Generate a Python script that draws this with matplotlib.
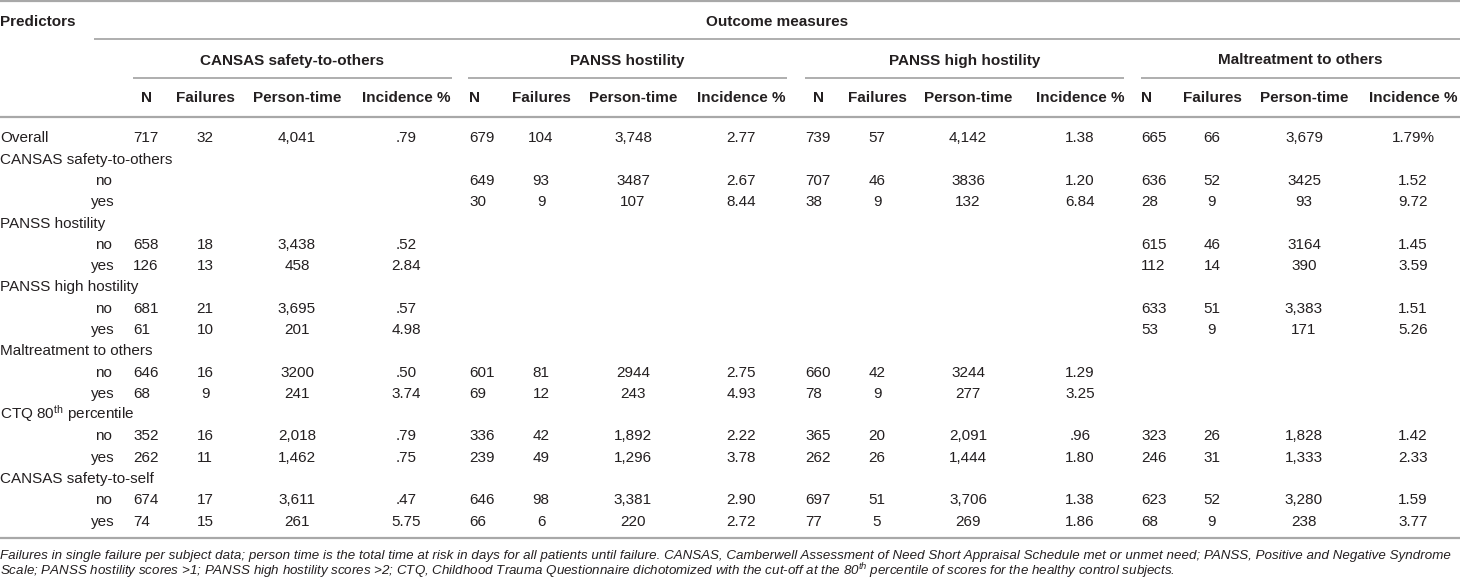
import matplotlib
matplotlib.use("Agg")
from matplotlib import pyplot as plt

plt.rcParams['font.family'] = ['Liberation Sans', 'DejaVu Sans']
plt.rcParams['mathtext.fontset'] = 'custom'
plt.rcParams['mathtext.rm'] = 'Liberation Sans'
plt.rcParams['mathtext.it'] = 'Liberation Sans:italic'

# table content
predictors = ["Overall", "CANSAS safety-to-others", "no", "yes",
              "PANSS hostility", "no", "yes",
              "PANSS high hostility", "no", "yes",
              "Maltreatment to others", "no", "yes",
              "CTQ 80$^{\\mathrm{th}}$ percentile", "no", "yes",
              "CANSAS safety-to-self", "no", "yes"]
outcomes = ["CANSAS safety-to-others", "PANSS hostility",
            "PANSS high hostility", "Maltreatment to others"]
col_names = ["N", "Failures", "Person-time", "Incidence %"]

cansas_n = ["717", "", "", "", "", "658", "126", "", "681", "61", "", "646", "68", "", "352", "262", "", "674", "74"]
cansas_fail = ["32", "", "", "", "", "18", "13", "", "21", "10", "", "16", "9", "", "16", "11", "", "17", "15"]
cansas_pt = ["4,041", "", "", "", "", "3,438", "458", "", "3,695", "201", "", "3200", "241", "", "2,018", "1,462", "", "3,611", "261"]
cansas_inc = [".79", "", "", "", "", ".52", "2.84", "", ".57", "4.98", "", ".50", "3.74", "", ".79", ".75", "", ".47", "5.75"]

panss_n = ["679", "", "649", "30", "", "", "", "", "", "", "", "601", "69", "", "336", "239", "", "646", "66"]
panss_fail = ["104", "", "93", "9", "", "", "", "", "", "", "", "81", "12", "", "42", "49", "", "98", "6"]
panss_pt = ["3,748", "", "3487", "107", "", "", "", "", "", "", "", "2944", "243", "", "1,892", "1,296", "", "3,381", "220"]
panss_inc = ["2.77", "", "2.67", "8.44", "", "", "", "", "", "", "", "2.75", "4.93", "", "2.22", "3.78", "", "2.90", "2.72"]

high_n = ["739", "", "707", "38", "", "", "", "", "", "", "", "660", "78", "", "365", "262", "", "697", "77"]
high_fail = ["57", "", "46", "9", "", "", "", "", "", "", "", "42", "9", "", "20", "26", "", "51", "5"]
high_pt = ["4,142", "", "3836", "132", "", "", "", "", "", "", "", "3244", "277", "", "2,091", "1,444", "", "3,706", "269"]
high_inc = ["1.38", "", "1.20", "6.84", "", "", "", "", "", "", "", "1.29", "3.25", "", ".96", "1.80", "", "1.38", "1.86"]

mal_n = ["665", "", "636", "28", "", "615", "112", "", "633", "53", "", "", "", "", "323", "246", "", "623", "68"]
mal_fail = ["66", "", "52", "9", "", "46", "14", "", "51", "9", "", "", "", "", "26", "31", "", "52", "9"]
mal_pt = ["3,679", "", "3425", "93", "", "3164", "390", "", "3,383", "171", "", "", "", "", "1,828", "1,333", "", "3,280", "238"]
mal_inc = ["1.79%", "", "1.52", "9.72", "", "1.45", "3.59", "", "1.51", "5.26", "", "", "", "", "1.42", "2.33", "", "1.59", "3.77"]

groups = [
    (cansas_n, cansas_fail, cansas_pt, cansas_inc),
    (panss_n, panss_fail, panss_pt, panss_inc),
    (high_n, high_fail, high_pt, high_inc),
    (mal_n, mal_fail, mal_pt, mal_inc),
]

footnote = [
    "Failures in single failure per subject data; person time is the total time at risk in days for all patients "
    "until failure. CANSAS, Camberwell Assessment of Need Short Appraisal Schedule met or unmet need; PANSS, "
    "Positive and Negative Syndrome",
    "Scale; PANSS hostility scores >1; PANSS high hostility scores >2; CTQ, Childhood Trauma Questionnaire "
    "dichotomized with the cut-off at the 80$^{th}$ percentile of scores for the healthy control subjects.",
]

# layout (pixels)
W, H = 1460, 582
group_span = [(133, 452), (468, 787), (805, 1124), (1141, 1460)]
n_left = [133, 469, 805, 1141]
# N header: (x, alignment)
n_head = [(146, 'center'), (469, 'left'), (818, 'center'), (1141, 'left')]
other_x = [(205, 297, 406), (541, 633, 741), (877, 968, 1080), (1212, 1304, 1413)]
row0, row_step = 137, 21.28
text_col = '#231f20'
line_col = '#a8a8a8'
fs = 11

fig = plt.figure(figsize=(W / 100, H / 100), dpi=100)
ax = fig.add_axes([0, 0, 1, 1])
ax.set_xlim(0, W)
ax.set_ylim(H, 0)
ax.axis('off')


def hline(y, x0, x1, lw=1.3):
    ax.plot([x0, x1], [y, y], color=line_col, lw=lw, solid_capstyle='butt')


def txt(x, y, s, ha='left', bold=False, size=fs, style='normal'):
    return ax.text(x, y + 5.5, s, ha=ha, va='baseline', fontsize=size, color=text_col,
                   fontweight='bold' if bold else 'normal', fontstyle=style)


# rules
hline(1, 0, W, lw=1.6)
hline(39, 94, W)
for x0, x1 in group_span:
    hline(78, x0, x1)
hline(117, 0, W, lw=1.6)
hline(538, 0, W, lw=1.6)

# headers
txt(0, 21, "Predictors", bold=True)
txt(777, 21, "Outcome measures", ha='center', bold=True)
for g, (x0, x1) in enumerate(group_span):
    txt((x0 + x1) / 2, 59, outcomes[g], ha='center', bold=True)
    txt(n_head[g][0], 97, col_names[0], ha=n_head[g][1], bold=True)
    for k in range(3):
        txt(other_x[g][k], 97, col_names[k + 1], ha='center', bold=True)

# body
for i, lab in enumerate(predictors):
    y = row0 + i * row_step
    if lab in ("no", "yes"):
        txt(103, y, lab, ha='center')
    else:
        txt(0, y, lab)
    for g, cols in enumerate(groups):
        n, fail, pt, inc = (c[i] for c in cols)
        if n:
            txt(n_left[g], y, n)
        for k, v in enumerate((fail, pt, inc)):
            if v:
                txt(other_x[g][k], y, v, ha='center')

# footnote, scaled to the full width
t1 = txt(0, 553, footnote[0], size=10, style='italic')
t2 = txt(0, 570, footnote[1], size=10, style='italic')
r = fig.canvas.get_renderer()
wpx = t1.get_window_extent(r).width
new_fs = 10 * 1448 / wpx
t1.set_fontsize(new_fs)
t2.set_fontsize(new_fs)

fig.savefig("out.png", dpi=100)
